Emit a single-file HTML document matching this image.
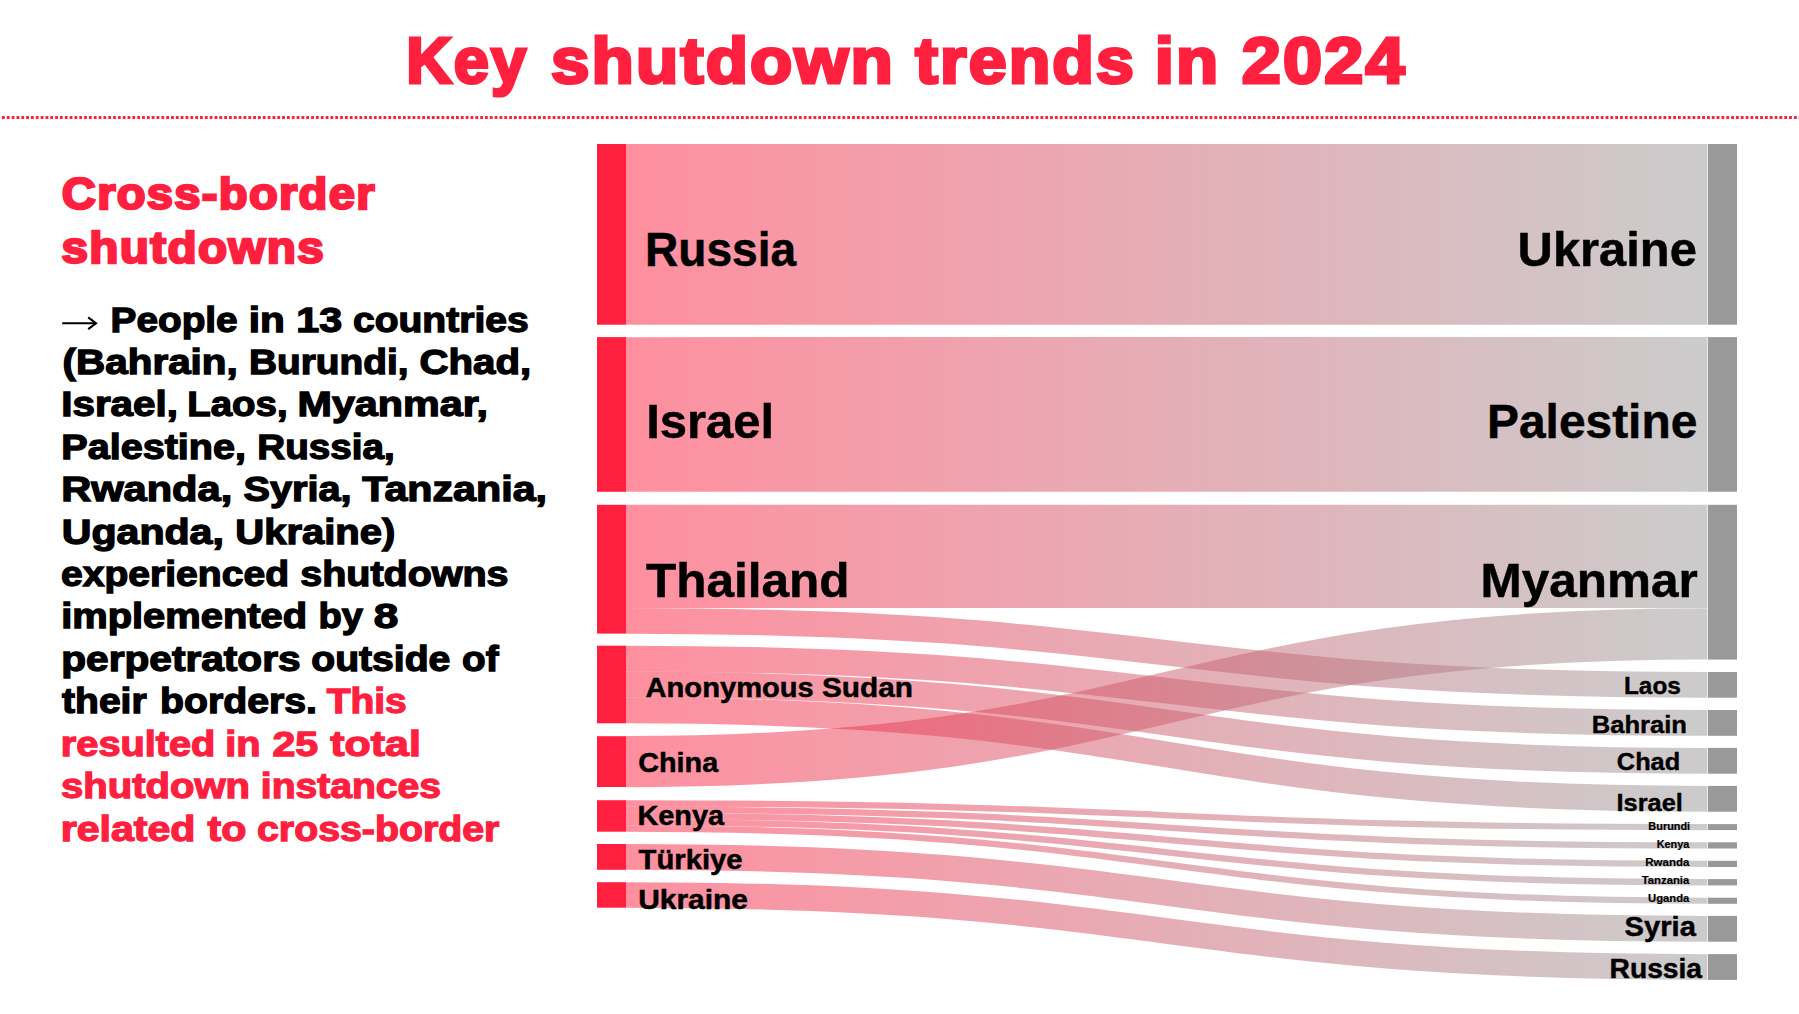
<!DOCTYPE html>
<html><head><meta charset="utf-8"><title>Key shutdown trends in 2024</title>
<style>html,body{margin:0;padding:0;background:#fff;}body{width:1799px;height:1014px;overflow:hidden;}svg{display:block;}text{font-family:"Liberation Sans",sans-serif;font-weight:bold;}</style></head><body>
<svg width="1799" height="1014" viewBox="0 0 1799 1014">
<defs><linearGradient id="lg" gradientUnits="userSpaceOnUse" x1="626" y1="0" x2="1708" y2="0"><stop offset="0" stop-color="#ff2040"/><stop offset="1" stop-color="#999999"/></linearGradient></defs>
<rect width="1799" height="1014" fill="#fff"/>
<line x1="2" y1="117.5" x2="1799" y2="117.5" stroke="#ff2040" stroke-width="2.8" stroke-dasharray="2.8 2.03"/>
<g fill="none" stroke="url(#lg)" stroke-opacity="0.5">
<path d="M626,234.35 C1167,234.35 1167,234.36 1707.4,234.36" stroke-width="180.7"/>
<path d="M626,414.45 C1167,414.45 1167,414.4 1707.4,414.4" stroke-width="154.65"/>
<path d="M626,556.45 C1167,556.45 1167,556.46 1707.4,556.46" stroke-width="103.3"/>
<path d="M626,620.85 C1167,620.85 1167,684.85 1707.4,684.85" stroke-width="25.6"/>
<path d="M626,658.625 C1167,658.625 1167,722.9 1707.4,722.9" stroke-width="25.825"/>
<path d="M626,684.475 C1167,684.475 1167,760.8 1707.4,760.8" stroke-width="25.825"/>
<path d="M626,710.35 C1167,710.35 1167,798.8 1707.4,798.8" stroke-width="25.85"/>
<path d="M626,761.6 C1167,761.6 1167,633.85 1707.4,633.85" stroke-width="51.15"/>
<path d="M626,856.9 C1167,856.9 1167,928.8 1707.4,928.8" stroke-width="25.8"/>
<path d="M626,894.95 C1167,894.95 1167,967 1707.4,967" stroke-width="25.65"/>
<path d="M626,803.35 C1167,803.35 1167,827.1 1707.4,827.1" stroke-width="6.15"/>
<path d="M626,809.65 C1167,809.65 1167,845.4 1707.4,845.4" stroke-width="6.25"/>
<path d="M626,815.95 C1167,815.95 1167,863.9 1707.4,863.9" stroke-width="6.25"/>
<path d="M626,822.25 C1167,822.25 1167,882.25 1707.4,882.25" stroke-width="6.3"/>
<path d="M626,828.55 C1167,828.55 1167,900.75 1707.4,900.75" stroke-width="6.2"/>
</g>
<rect x="597" y="144" width="29" height="180.7" fill="#ff2040"/>
<rect x="597" y="337.1" width="29" height="154.7" fill="#ff2040"/>
<rect x="597" y="504.8" width="29" height="128.8" fill="#ff2040"/>
<rect x="597" y="645.7" width="29" height="77.6" fill="#ff2040"/>
<rect x="597" y="736.2" width="29" height="50.8" fill="#ff2040"/>
<rect x="597" y="800.2" width="29" height="31.5" fill="#ff2040"/>
<rect x="597" y="844" width="29" height="25.8" fill="#ff2040"/>
<rect x="597" y="882.2" width="29" height="25.5" fill="#ff2040"/>
<rect x="1708" y="144" width="29" height="180.7" fill="#999999"/>
<rect x="1708" y="337.1" width="29" height="154.6" fill="#999999"/>
<rect x="1708" y="504.8" width="29" height="154.8" fill="#999999"/>
<rect x="1708" y="672" width="29" height="25.7" fill="#999999"/>
<rect x="1708" y="710" width="29" height="25.8" fill="#999999"/>
<rect x="1708" y="747.9" width="29" height="25.8" fill="#999999"/>
<rect x="1708" y="785.9" width="29" height="25.8" fill="#999999"/>
<rect x="1708" y="824.1" width="29" height="6" fill="#999999"/>
<rect x="1708" y="842.3" width="29" height="6.2" fill="#999999"/>
<rect x="1708" y="860.8" width="29" height="6.2" fill="#999999"/>
<rect x="1708" y="879.1" width="29" height="6.3" fill="#999999"/>
<rect x="1708" y="897.7" width="29" height="6.1" fill="#999999"/>
<rect x="1708" y="915.9" width="29" height="25.8" fill="#999999"/>
<rect x="1708" y="954.1" width="29" height="25.8" fill="#999999"/>
<text x="406.17" y="83.4" font-size="64" fill="#ff2040" textLength="121.84" lengthAdjust="spacingAndGlyphs" stroke="#ff2040" stroke-width="3.2" stroke-linejoin="miter" letter-spacing="2">Key</text>
<text x="550.97" y="83.4" font-size="64" fill="#ff2040" textLength="343.88" lengthAdjust="spacingAndGlyphs" stroke="#ff2040" stroke-width="3.2" stroke-linejoin="miter" letter-spacing="2">shutdown</text>
<text x="915.27" y="83.4" font-size="64" fill="#ff2040" textLength="220.75" lengthAdjust="spacingAndGlyphs" stroke="#ff2040" stroke-width="3.2" stroke-linejoin="miter" letter-spacing="2">trends</text>
<text x="1154.78" y="83.4" font-size="64" fill="#ff2040" textLength="65.66" lengthAdjust="spacingAndGlyphs" stroke="#ff2040" stroke-width="3.2" stroke-linejoin="miter" letter-spacing="2">in</text>
<text x="1241.66" y="83.4" font-size="64" fill="#ff2040" textLength="165.11" lengthAdjust="spacingAndGlyphs" stroke="#ff2040" stroke-width="3.2" stroke-linejoin="miter" letter-spacing="2">2024</text>
<text x="61.87" y="208.8" font-size="44" fill="#ff2040" textLength="313.93" lengthAdjust="spacingAndGlyphs" stroke="#ff2040" stroke-width="2.4" stroke-linejoin="miter" letter-spacing="1.2">Cross-border</text>
<text x="61.52" y="262.8" font-size="44" fill="#ff2040" textLength="263.54" lengthAdjust="spacingAndGlyphs" stroke="#ff2040" stroke-width="2.4" stroke-linejoin="miter" letter-spacing="1.2">shutdowns</text>
<text x="110.56" y="331.75" font-size="34.5" fill="#000" textLength="127.12" lengthAdjust="spacingAndGlyphs" stroke="#000" stroke-width="1.3" stroke-linejoin="miter">People</text>
<text x="248.72" y="331.75" font-size="34.5" fill="#000" textLength="36.05" lengthAdjust="spacingAndGlyphs" stroke="#000" stroke-width="1.3" stroke-linejoin="miter">in</text>
<text x="296.25" y="331.75" font-size="34.5" fill="#000" textLength="45.89" lengthAdjust="spacingAndGlyphs" stroke="#000" stroke-width="1.3" stroke-linejoin="miter">13</text>
<text x="352.92" y="331.75" font-size="34.5" fill="#000" textLength="175.83" lengthAdjust="spacingAndGlyphs" stroke="#000" stroke-width="1.3" stroke-linejoin="miter">countries</text>
<text x="62.64" y="374.05" font-size="34.5" fill="#000" textLength="175.12" lengthAdjust="spacingAndGlyphs" stroke="#000" stroke-width="1.3" stroke-linejoin="miter">(Bahrain,</text>
<text x="248.95" y="374.05" font-size="34.5" fill="#000" textLength="159.59" lengthAdjust="spacingAndGlyphs" stroke="#000" stroke-width="1.3" stroke-linejoin="miter">Burundi,</text>
<text x="419.50" y="374.05" font-size="34.5" fill="#000" textLength="111.74" lengthAdjust="spacingAndGlyphs" stroke="#000" stroke-width="1.3" stroke-linejoin="miter">Chad,</text>
<text x="61.25" y="416.35" font-size="34.5" fill="#000" textLength="116.70" lengthAdjust="spacingAndGlyphs" stroke="#000" stroke-width="1.3" stroke-linejoin="miter">Israel,</text>
<text x="187.28" y="416.35" font-size="34.5" fill="#000" textLength="100.34" lengthAdjust="spacingAndGlyphs" stroke="#000" stroke-width="1.3" stroke-linejoin="miter">Laos,</text>
<text x="297.52" y="416.35" font-size="34.5" fill="#000" textLength="190.46" lengthAdjust="spacingAndGlyphs" stroke="#000" stroke-width="1.3" stroke-linejoin="miter">Myanmar,</text>
<text x="61.30" y="458.75" font-size="34.5" fill="#000" textLength="184.69" lengthAdjust="spacingAndGlyphs" stroke="#000" stroke-width="1.3" stroke-linejoin="miter">Palestine,</text>
<text x="257.37" y="458.75" font-size="34.5" fill="#000" textLength="137.37" lengthAdjust="spacingAndGlyphs" stroke="#000" stroke-width="1.3" stroke-linejoin="miter">Russia,</text>
<text x="61.17" y="501.15" font-size="34.5" fill="#000" textLength="171.07" lengthAdjust="spacingAndGlyphs" stroke="#000" stroke-width="1.3" stroke-linejoin="miter">Rwanda,</text>
<text x="243.51" y="501.15" font-size="34.5" fill="#000" textLength="108.10" lengthAdjust="spacingAndGlyphs" stroke="#000" stroke-width="1.3" stroke-linejoin="miter">Syria,</text>
<text x="362.29" y="501.15" font-size="34.5" fill="#000" textLength="184.77" lengthAdjust="spacingAndGlyphs" stroke="#000" stroke-width="1.3" stroke-linejoin="miter">Tanzania,</text>
<text x="61.78" y="543.55" font-size="34.5" fill="#000" textLength="162.12" lengthAdjust="spacingAndGlyphs" stroke="#000" stroke-width="1.3" stroke-linejoin="miter">Uganda,</text>
<text x="235.25" y="543.55" font-size="34.5" fill="#000" textLength="160.10" lengthAdjust="spacingAndGlyphs" stroke="#000" stroke-width="1.3" stroke-linejoin="miter">Ukraine)</text>
<text x="61.02" y="585.95" font-size="34.5" fill="#000" textLength="228.00" lengthAdjust="spacingAndGlyphs" stroke="#000" stroke-width="1.3" stroke-linejoin="miter">experienced</text>
<text x="300.26" y="585.95" font-size="34.5" fill="#000" textLength="208.31" lengthAdjust="spacingAndGlyphs" stroke="#000" stroke-width="1.3" stroke-linejoin="miter">shutdowns</text>
<text x="61.17" y="628.35" font-size="34.5" fill="#000" textLength="245.91" lengthAdjust="spacingAndGlyphs" stroke="#000" stroke-width="1.3" stroke-linejoin="miter">implemented</text>
<text x="318.54" y="628.35" font-size="34.5" fill="#000" textLength="44.52" lengthAdjust="spacingAndGlyphs" stroke="#000" stroke-width="1.3" stroke-linejoin="miter">by</text>
<text x="373.85" y="628.35" font-size="34.5" fill="#000" textLength="24.56" lengthAdjust="spacingAndGlyphs" stroke="#000" stroke-width="1.3" stroke-linejoin="miter">8</text>
<text x="61.27" y="670.75" font-size="34.5" fill="#000" textLength="239.34" lengthAdjust="spacingAndGlyphs" stroke="#000" stroke-width="1.3" stroke-linejoin="miter">perpetrators</text>
<text x="311.22" y="670.75" font-size="34.5" fill="#000" textLength="139.17" lengthAdjust="spacingAndGlyphs" stroke="#000" stroke-width="1.3" stroke-linejoin="miter">outside</text>
<text x="462.14" y="670.75" font-size="34.5" fill="#000" textLength="36.54" lengthAdjust="spacingAndGlyphs" stroke="#000" stroke-width="1.3" stroke-linejoin="miter">of</text>
<text x="62.07" y="713.15" font-size="34.5" fill="#000" textLength="84.57" lengthAdjust="spacingAndGlyphs" stroke="#000" stroke-width="1.3" stroke-linejoin="miter">their</text>
<text x="160.06" y="713.15" font-size="34.5" fill="#000" textLength="156.99" lengthAdjust="spacingAndGlyphs" stroke="#000" stroke-width="1.3" stroke-linejoin="miter">borders.</text>
<text x="326.71" y="713.15" font-size="34.5" fill="#ff2040" textLength="80.03" lengthAdjust="spacingAndGlyphs" stroke="#ff2040" stroke-width="1.3" stroke-linejoin="miter">This</text>
<text x="60.83" y="755.85" font-size="34.5" fill="#ff2040" textLength="154.54" lengthAdjust="spacingAndGlyphs" stroke="#ff2040" stroke-width="1.3" stroke-linejoin="miter">resulted</text>
<text x="225.17" y="755.85" font-size="34.5" fill="#ff2040" textLength="35.34" lengthAdjust="spacingAndGlyphs" stroke="#ff2040" stroke-width="1.3" stroke-linejoin="miter">in</text>
<text x="272.43" y="755.85" font-size="34.5" fill="#ff2040" textLength="45.67" lengthAdjust="spacingAndGlyphs" stroke="#ff2040" stroke-width="1.3" stroke-linejoin="miter">25</text>
<text x="330.33" y="755.85" font-size="34.5" fill="#ff2040" textLength="90.56" lengthAdjust="spacingAndGlyphs" stroke="#ff2040" stroke-width="1.3" stroke-linejoin="miter">total</text>
<text x="61.14" y="798.15" font-size="34.5" fill="#ff2040" textLength="188.89" lengthAdjust="spacingAndGlyphs" stroke="#ff2040" stroke-width="1.3" stroke-linejoin="miter">shutdown</text>
<text x="260.82" y="798.15" font-size="34.5" fill="#ff2040" textLength="180.13" lengthAdjust="spacingAndGlyphs" stroke="#ff2040" stroke-width="1.3" stroke-linejoin="miter">instances</text>
<text x="60.74" y="840.75" font-size="34.5" fill="#ff2040" textLength="134.72" lengthAdjust="spacingAndGlyphs" stroke="#ff2040" stroke-width="1.3" stroke-linejoin="miter">related</text>
<text x="207.45" y="840.75" font-size="34.5" fill="#ff2040" textLength="38.91" lengthAdjust="spacingAndGlyphs" stroke="#ff2040" stroke-width="1.3" stroke-linejoin="miter">to</text>
<text x="257.02" y="840.75" font-size="34.5" fill="#ff2040" textLength="242.33" lengthAdjust="spacingAndGlyphs" stroke="#ff2040" stroke-width="1.3" stroke-linejoin="miter">cross-border</text>
<text x="645.07" y="265.95" font-size="48" fill="#000" textLength="151.09" lengthAdjust="spacingAndGlyphs" stroke="#000" stroke-width="0.5" stroke-linejoin="miter">Russia</text>
<text x="646.17" y="437.75" font-size="48" fill="#000" textLength="128.05" lengthAdjust="spacingAndGlyphs" stroke="#000" stroke-width="0.5" stroke-linejoin="miter">Israel</text>
<text x="645.99" y="596.55" font-size="48" fill="#000" textLength="203.62" lengthAdjust="spacingAndGlyphs" stroke="#000" stroke-width="0.5" stroke-linejoin="miter">Thailand</text>
<text x="645.52" y="696.85" font-size="28.2" fill="#000" textLength="168.32" lengthAdjust="spacingAndGlyphs" stroke="#000" stroke-width="0.5" stroke-linejoin="miter">Anonymous</text>
<text x="821.99" y="696.85" font-size="28.2" fill="#000" textLength="91.00" lengthAdjust="spacingAndGlyphs" stroke="#000" stroke-width="0.5" stroke-linejoin="miter">Sudan</text>
<text x="638.17" y="772.15" font-size="28.2" fill="#000" textLength="80.00" lengthAdjust="spacingAndGlyphs" stroke="#000" stroke-width="0.5" stroke-linejoin="miter">China</text>
<text x="637.42" y="825.45" font-size="28.2" fill="#000" textLength="86.65" lengthAdjust="spacingAndGlyphs" stroke="#000" stroke-width="0.5" stroke-linejoin="miter">Kenya</text>
<text x="638.62" y="869.15" font-size="28.2" fill="#000" textLength="104.03" lengthAdjust="spacingAndGlyphs" stroke="#000" stroke-width="0.5" stroke-linejoin="miter">Türkiye</text>
<text x="638.15" y="909.25" font-size="28.2" fill="#000" textLength="109.82" lengthAdjust="spacingAndGlyphs" stroke="#000" stroke-width="0.5" stroke-linejoin="miter">Ukraine</text>
<text x="1517.62" y="265.95" font-size="48" fill="#000" textLength="179.20" lengthAdjust="spacingAndGlyphs" stroke="#000" stroke-width="0.5" stroke-linejoin="miter">Ukraine</text>
<text x="1487.05" y="437.75" font-size="48" fill="#000" textLength="210.24" lengthAdjust="spacingAndGlyphs" stroke="#000" stroke-width="0.5" stroke-linejoin="miter">Palestine</text>
<text x="1480.54" y="596.65" font-size="48" fill="#000" textLength="217.16" lengthAdjust="spacingAndGlyphs" stroke="#000" stroke-width="0.5" stroke-linejoin="miter">Myanmar</text>
<text x="1623.97" y="694.4" font-size="24.8" fill="#000" textLength="56.83" lengthAdjust="spacingAndGlyphs" stroke="#000" stroke-width="0.4" stroke-linejoin="miter">Laos</text>
<text x="1591.79" y="733.4" font-size="24.8" fill="#000" textLength="95.20" lengthAdjust="spacingAndGlyphs" stroke="#000" stroke-width="0.4" stroke-linejoin="miter">Bahrain</text>
<text x="1616.86" y="770.1" font-size="24.8" fill="#000" textLength="63.31" lengthAdjust="spacingAndGlyphs" stroke="#000" stroke-width="0.4" stroke-linejoin="miter">Chad</text>
<text x="1616.50" y="810.9" font-size="24.8" fill="#000" textLength="66.29" lengthAdjust="spacingAndGlyphs" stroke="#000" stroke-width="0.4" stroke-linejoin="miter">Israel</text>
<text x="1648.37" y="829.6" font-size="11" fill="#000" textLength="41.80" lengthAdjust="spacingAndGlyphs" stroke="#000" stroke-width="0.2" stroke-linejoin="miter">Burundi</text>
<text x="1656.67" y="847.6" font-size="11" fill="#000" textLength="32.66" lengthAdjust="spacingAndGlyphs" stroke="#000" stroke-width="0.2" stroke-linejoin="miter">Kenya</text>
<text x="1645.33" y="865.9" font-size="11" fill="#000" textLength="43.99" lengthAdjust="spacingAndGlyphs" stroke="#000" stroke-width="0.2" stroke-linejoin="miter">Rwanda</text>
<text x="1641.78" y="883.9" font-size="11" fill="#000" textLength="47.55" lengthAdjust="spacingAndGlyphs" stroke="#000" stroke-width="0.2" stroke-linejoin="miter">Tanzania</text>
<text x="1648.02" y="901.7" font-size="11" fill="#000" textLength="41.31" lengthAdjust="spacingAndGlyphs" stroke="#000" stroke-width="0.2" stroke-linejoin="miter">Uganda</text>
<text x="1624.61" y="936.15" font-size="28.2" fill="#000" textLength="71.25" lengthAdjust="spacingAndGlyphs" stroke="#000" stroke-width="0.5" stroke-linejoin="miter">Syria</text>
<text x="1609.56" y="977.55" font-size="28.2" fill="#000" textLength="92.51" lengthAdjust="spacingAndGlyphs" stroke="#000" stroke-width="0.5" stroke-linejoin="miter">Russia</text>
<g fill="none" stroke="#000" stroke-width="2.1"><path d="M62.2,323.3 H96"/><path d="M88.2,317.4 L96,323.3 L88.2,329.2"/></g>
</svg></body></html>
